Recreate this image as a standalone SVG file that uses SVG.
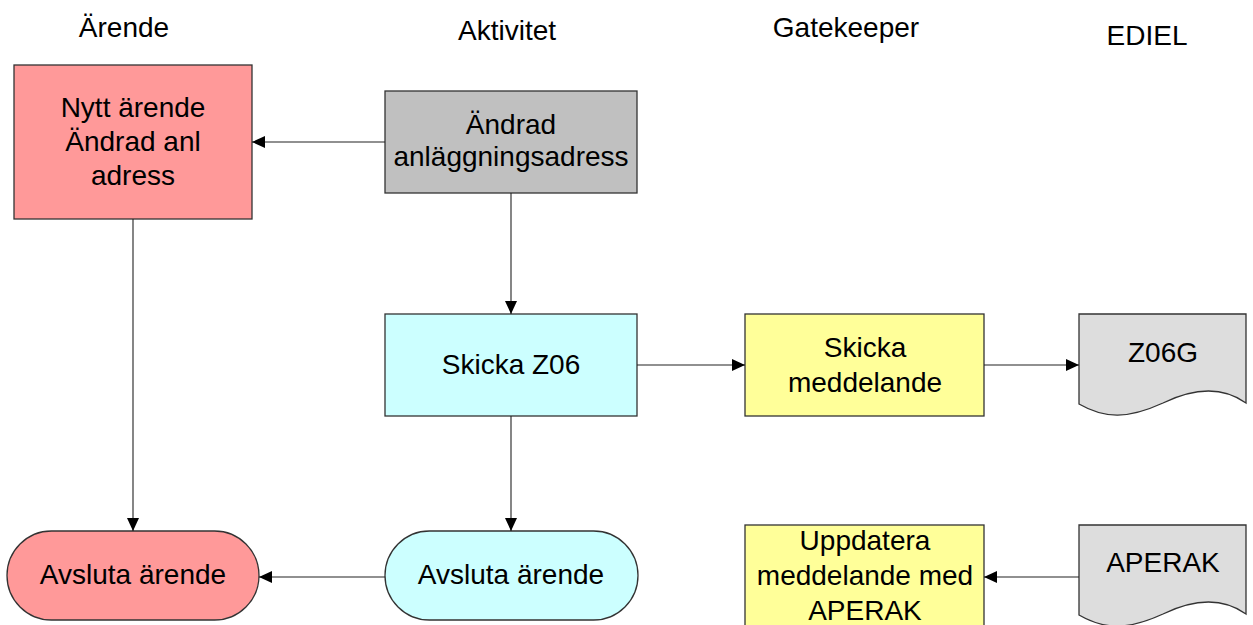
<svg xmlns="http://www.w3.org/2000/svg" width="1253" height="625" viewBox="0 0 1253 625">
<style>
text{font-family:"Liberation Sans",Arial,sans-serif;font-size:28px;fill:#000;text-anchor:middle}
.box{stroke:#333;stroke-width:1.3}
.red{fill:#ff9999}.gray{fill:#c0c0c0}.cyan{fill:#ccffff}.yellow{fill:#ffff99}.doc{fill:#dddddd}
.conn line{stroke:#222;stroke-width:1.1;marker-end:url(#ah)}
</style>
<defs>
<marker id="ah" markerUnits="userSpaceOnUse" markerWidth="13" markerHeight="12" refX="13" refY="6" orient="auto">
<path d="M0,0 L13,6 L0,12 Z" fill="#000"/>
</marker>
</defs>
<rect width="1253" height="625" fill="#fff"/>
<g id="headers">
<text x="124" y="37">Ärende</text>
<text x="507" y="40">Aktivitet</text>
<text x="846" y="37">Gatekeeper</text>
<text x="1147" y="45">EDIEL</text>
</g>
<g id="n-nytt-arende">
<rect class="box red" x="14" y="65" width="238" height="154"/>
<text x="133" y="117">Nytt ärende</text>
<text x="133" y="151">Ändrad anl</text>
<text x="133" y="185">adress</text>
</g>
<g id="n-andrad">
<rect class="box gray" x="385" y="91" width="252" height="102"/>
<text x="511" y="134">Ändrad</text>
<text x="511" y="166">anläggningsadress</text>
</g>
<g id="n-skicka-z06">
<rect class="box cyan" x="385" y="314" width="252" height="102"/>
<text x="511" y="374">Skicka Z06</text>
</g>
<g id="n-skicka-meddelande">
<rect class="box yellow" x="745" y="314" width="239" height="102"/>
<text x="865" y="357">Skicka</text>
<text x="865" y="392">meddelande</text>
</g>
<g id="n-z06g">
<path class="box doc" d="M1079,314 H1246 V403 C1225,388 1198,386 1163,403 C1128,419 1105,419 1079,404 Z"/>
<text x="1163" y="362">Z06G</text>
</g>
<g id="n-uppdatera">
<rect class="box yellow" x="745" y="525" width="239" height="102"/>
<text x="865" y="550">Uppdatera</text>
<text x="865" y="585">meddelande med</text>
<text x="865" y="620">APERAK</text>
</g>
<g id="n-aperak">
<path class="box doc" d="M1079,525 H1246 V614 C1225,599 1198,597 1163,614 C1128,630 1105,630 1079,615 Z"/>
<text x="1163" y="572">APERAK</text>
</g>
<g id="n-avsluta-arende">
<rect class="box red" x="7" y="531" width="252" height="89" rx="44.5" ry="44.5"/>
<text x="133" y="584">Avsluta ärende</text>
</g>
<g id="n-avsluta-aktivitet">
<rect class="box cyan" x="385" y="531" width="253" height="89" rx="44.5" ry="44.5"/>
<text x="511" y="584">Avsluta ärende</text>
</g>
<g id="connectors" class="conn">
<line x1="385" y1="142" x2="252" y2="142"/>
<line x1="511" y1="193" x2="511" y2="314"/>
<line x1="637" y1="365" x2="745" y2="365"/>
<line x1="984" y1="365" x2="1079" y2="365"/>
<line x1="133" y1="219" x2="133" y2="531"/>
<line x1="511" y1="416" x2="511" y2="531"/>
<line x1="385" y1="577" x2="259" y2="577"/>
<line x1="1079" y1="577" x2="984" y2="577"/>
</g>
</svg>
